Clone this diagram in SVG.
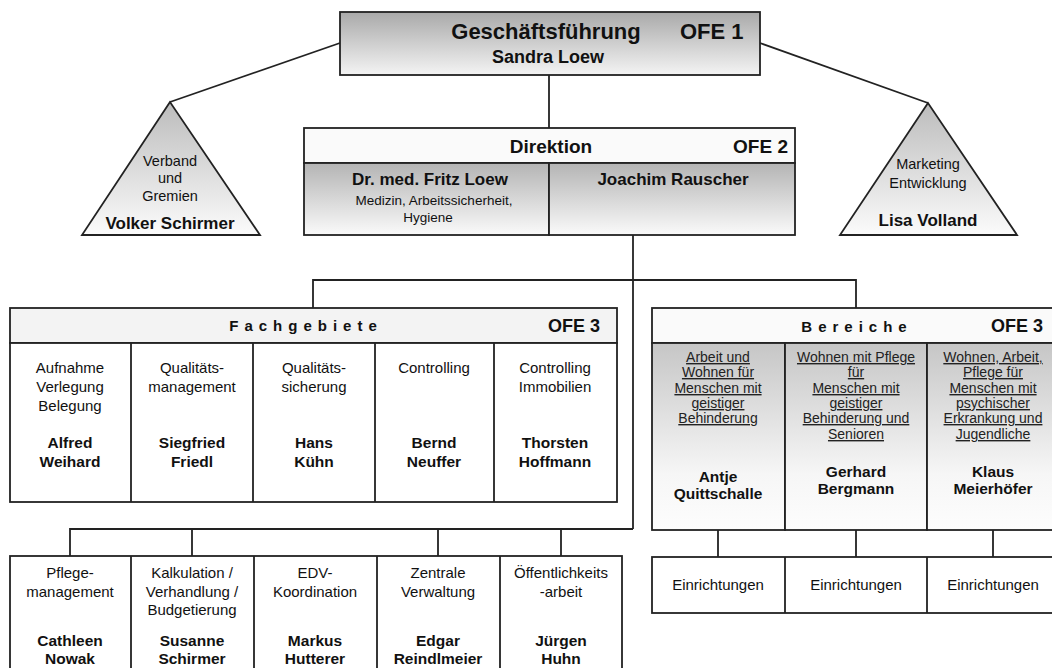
<svg xmlns="http://www.w3.org/2000/svg" width="1052" height="668" viewBox="0 0 1052 668">
<defs>
<linearGradient id="gTop" x1="0" y1="0" x2="0" y2="1"><stop offset="0" stop-color="#a9a9a9"/><stop offset="1" stop-color="#f4f4f4"/></linearGradient>
<linearGradient id="gCell" x1="0" y1="0" x2="0" y2="1"><stop offset="0" stop-color="#b4b4b4"/><stop offset="1" stop-color="#fafafa"/></linearGradient>
<linearGradient id="gTri" x1="0" y1="0" x2="0" y2="1"><stop offset="0" stop-color="#bcbcbc"/><stop offset="1" stop-color="#fbfbfb"/></linearGradient>
<linearGradient id="gBer" x1="0" y1="0" x2="0" y2="1"><stop offset="0" stop-color="#c6c6c6"/><stop offset="0.7" stop-color="#f6f6f6"/><stop offset="1" stop-color="#fdfdfd"/></linearGradient>
</defs>
<style>
.bx{stroke:#222;stroke-width:1.8}
.ln{stroke:#222;stroke-width:1.8;fill:none}
text{font-family:"Liberation Sans",Arial,sans-serif;fill:#111}
.c{text-anchor:middle}
.r{font-size:15px}
.rs{font-size:14.5px}
.b{font-weight:bold;font-size:15.5px}
.u{font-size:14px;text-decoration:underline;fill:#222}
.hd{font-weight:bold;font-size:15px;letter-spacing:6px}
.ofe{font-weight:bold;font-size:18px}
</style>
<rect width="1052" height="668" fill="#fff"/>

<g id="connectors">
<path class="ln" d="M549 75V128"/>
<path class="ln" d="M340 43L170 102"/>
<path class="ln" d="M760 43L928 103"/>
<path class="ln" d="M633 235V529"/>
<path class="ln" d="M313 308V280H856V308"/>
<path class="ln" d="M70 556V529H633"/>
<path class="ln" d="M192 529V556M438 529V556M561 529V556"/>
<path class="ln" d="M718 530V557M856 530V557M993 530V557"/>
</g>

<g id="geschaeftsfuehrung">
<rect class="bx" x="340" y="12" width="420" height="63" fill="url(#gTop)"/>
<text x="546" y="39" class="c" style="font-weight:bold;font-size:22px">Geschäftsführung</text>
<text x="680" y="39" style="font-weight:bold;font-size:22px">OFE 1</text>
<text x="548" y="63" class="c" style="font-weight:bold;font-size:18px">Sandra Loew</text>
</g>

<g id="verband">
<polygon class="bx" points="170,102 82,235 260,235" fill="url(#gTri)"/>
<text x="170" y="166" class="c rs">Verband</text>
<text x="170" y="183" class="c rs">und</text>
<text x="170" y="201" class="c rs">Gremien</text>
<text x="170" y="229" class="c" style="font-weight:bold;font-size:17px">Volker Schirmer</text>
</g>

<g id="marketing">
<polygon class="bx" points="928,103 840,235 1017,235" fill="url(#gTri)"/>
<text x="928" y="169" class="c rs">Marketing</text>
<text x="928" y="188" class="c rs">Entwicklung</text>
<text x="928" y="226" class="c" style="font-weight:bold;font-size:17px">Lisa Volland</text>
</g>

<g id="direktion">
<rect class="bx" x="304" y="128" width="491" height="35" fill="#fafafa"/>
<rect class="bx" x="304" y="163" width="245" height="72" fill="url(#gCell)"/>
<rect class="bx" x="549" y="163" width="246" height="72" fill="url(#gCell)"/>
<text x="551" y="153" class="c" style="font-weight:bold;font-size:19px">Direktion</text>
<text x="788" y="153" style="font-weight:bold;font-size:19px;text-anchor:end">OFE 2</text>
<text x="430" y="185" class="c" style="font-weight:bold;font-size:17px">Dr. med. Fritz Loew</text>
<text x="434" y="205" class="c" style="font-size:13.5px">Medizin, Arbeitssicherheit,</text>
<text x="428" y="222" class="c" style="font-size:13.5px">Hygiene</text>
<text x="673" y="185" class="c" style="font-weight:bold;font-size:17px">Joachim Rauscher</text>
</g>

<g id="fachgebiete">
<rect class="bx" x="10" y="308" width="607" height="35" fill="#f3f3f3"/>
<rect class="bx" x="10" y="343" width="607" height="159" fill="#fff"/>
<path class="ln" d="M131 343V502M253 343V502M375 343V502M494 343V502"/>
<text x="306" y="331" class="c hd">Fachgebiete</text>
<text x="600" y="332" class="ofe" text-anchor="end">OFE 3</text>
<text x="70" y="373" class="c r">Aufnahme</text>
<text x="70" y="392" class="c r">Verlegung</text>
<text x="70" y="411" class="c r">Belegung</text>
<text x="70" y="448" class="c b">Alfred</text>
<text x="70" y="467" class="c b">Weihard</text>
<text x="192" y="373" class="c r">Qualitäts-</text>
<text x="192" y="392" class="c r">management</text>
<text x="192" y="448" class="c b">Siegfried</text>
<text x="192" y="467" class="c b">Friedl</text>
<text x="314" y="373" class="c r">Qualitäts-</text>
<text x="314" y="392" class="c r">sicherung</text>
<text x="314" y="448" class="c b">Hans</text>
<text x="314" y="467" class="c b">Kühn</text>
<text x="434" y="373" class="c r">Controlling</text>
<text x="434" y="448" class="c b">Bernd</text>
<text x="434" y="467" class="c b">Neuffer</text>
<text x="555" y="373" class="c r">Controlling</text>
<text x="555" y="392" class="c r">Immobilien</text>
<text x="555" y="448" class="c b">Thorsten</text>
<text x="555" y="467" class="c b">Hoffmann</text>
</g>

<g id="bereiche">
<rect class="bx" x="652" y="308" width="410" height="35" fill="#fafafa"/>
<rect class="bx" x="652" y="343" width="133" height="187" fill="url(#gBer)"/>
<rect class="bx" x="785" y="343" width="142" height="187" fill="url(#gBer)"/>
<rect class="bx" x="927" y="343" width="135" height="187" fill="url(#gBer)"/>
<text x="857" y="332" class="c hd">Bereiche</text>
<text x="1043" y="332" class="ofe" text-anchor="end">OFE 3</text>
<text x="718" y="362" class="c u">Arbeit und</text>
<text x="718" y="377" class="c u">Wohnen für</text>
<text x="718" y="393" class="c u">Menschen mit</text>
<text x="718" y="408" class="c u">geistiger</text>
<text x="718" y="423" class="c u">Behinderung</text>
<text x="718" y="482" class="c b">Antje</text>
<text x="718" y="499" class="c b">Quittschalle</text>
<text x="856" y="362" class="c u">Wohnen mit Pflege</text>
<text x="856" y="377" class="c u">für</text>
<text x="856" y="393" class="c u">Menschen mit</text>
<text x="856" y="408" class="c u">geistiger</text>
<text x="856" y="423" class="c u">Behinderung und</text>
<text x="856" y="439" class="c u">Senioren</text>
<text x="856" y="477" class="c b">Gerhard</text>
<text x="856" y="494" class="c b">Bergmann</text>
<text x="993" y="362" class="c u">Wohnen, Arbeit,</text>
<text x="993" y="377" class="c u">Pflege für</text>
<text x="993" y="393" class="c u">Menschen mit</text>
<text x="993" y="408" class="c u">psychischer</text>
<text x="993" y="423" class="c u">Erkrankung und</text>
<text x="993" y="439" class="c u">Jugendliche</text>
<text x="993" y="477" class="c b">Klaus</text>
<text x="993" y="494" class="c b">Meierhöfer</text>
</g>

<g id="einrichtungen">
<rect class="bx" x="652" y="557" width="410" height="56" fill="#fff"/>
<path class="ln" d="M785 557V613M927 557V613"/>
<text x="718" y="590" class="c r">Einrichtungen</text>
<text x="856" y="590" class="c r">Einrichtungen</text>
<text x="993" y="590" class="c r">Einrichtungen</text>
</g>

<g id="stabsstellen">
<rect class="bx" x="10" y="556" width="612" height="120" fill="#fff"/>
<path class="ln" d="M131 556V676M254 556V676M377 556V676M500 556V676"/>
<text x="70" y="578" class="c r">Pflege-</text>
<text x="70" y="597" class="c r">management</text>
<text x="70" y="646" class="c b">Cathleen</text>
<text x="70" y="664" class="c b">Nowak</text>
<text x="192" y="578" class="c r">Kalkulation /</text>
<text x="192" y="597" class="c r">Verhandlung  /</text>
<text x="192" y="615" class="c r">Budgetierung</text>
<text x="192" y="646" class="c b">Susanne</text>
<text x="192" y="664" class="c b">Schirmer</text>
<text x="315" y="578" class="c r">EDV-</text>
<text x="315" y="597" class="c r">Koordination</text>
<text x="315" y="646" class="c b">Markus</text>
<text x="315" y="664" class="c b">Hutterer</text>
<text x="438" y="578" class="c r">Zentrale</text>
<text x="438" y="597" class="c r">Verwaltung</text>
<text x="438" y="646" class="c b">Edgar</text>
<text x="438" y="664" class="c b">Reindlmeier</text>
<text x="561" y="578" class="c r">Öffentlichkeits</text>
<text x="561" y="597" class="c r">-arbeit</text>
<text x="561" y="646" class="c b">Jürgen</text>
<text x="561" y="664" class="c b">Huhn</text>
</g>
</svg>
